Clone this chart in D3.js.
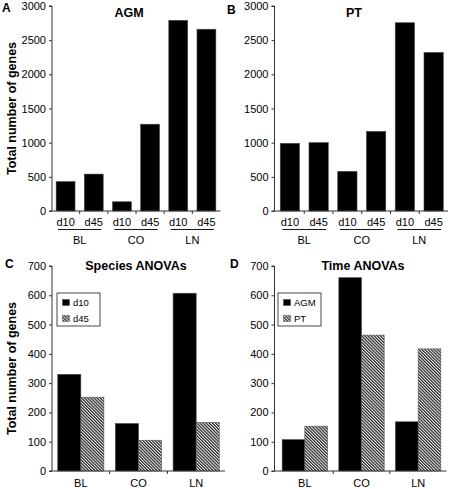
<!DOCTYPE html>
<html><head><meta charset="utf-8">
<script src="https://cdn.jsdelivr.net/npm/d3@7"></script>
<style>body{margin:0;background:#fff}svg{display:block;font-family:"Liberation Sans",Arial,sans-serif}</style>
</head><body><svg id="c" width="449" height="489"></svg>
<script>
// ---- data ----
const categories = ["BL", "CO", "LN"];
const timepoints = ["d10", "d45"];
const agmValues = [430, 540, 135, 1270, 2790, 2660];   // BL d10, BL d45, CO d10, CO d45, LN d10, LN d45
const ptValues  = [990, 1000, 580, 1165, 2755, 2320];
const topTicks = [0, 500, 1000, 1500, 2000, 2500, 3000];
const speciesD10 = [330, 162, 607];
const speciesD45 = [252, 105, 166];
const timeAGM = [107, 660, 168];
const timePT  = [153, 464, 417];
const bottomTicks = [0, 100, 200, 300, 400, 500, 600, 700];
const speciesSeries = ["d10", "d45"];
const timeSeries = ["AGM", "PT"];

const svg = d3.select("#c");
const defs = svg.append("defs");
const pat = defs.append("pattern").attr("id", "hatch").attr("patternUnits", "userSpaceOnUse")
  .attr("width", 2.2).attr("height", 2.2).attr("patternTransform", "rotate(-45)");
pat.append("rect").attr("width", 2.2).attr("height", 2.2).attr("fill", "#f4f4f4");
pat.append("line").attr("x1", 0.6).attr("y1", 0).attr("x2", 0.6).attr("y2", 2.2)
  .attr("stroke", "#111").attr("stroke-width", 1.1);

const AX = "#333";

function yAxis(g, y, ticks, x0) {
  const a = g.append("g").attr("transform", `translate(${x0},0)`)
    .call(d3.axisLeft(y).tickValues(ticks).tickSize(3).tickPadding(3).tickFormat(d3.format("d")));
  a.select(".domain").attr("stroke", AX).attr("d", `M-3,${y(ticks[ticks.length-1])}H0V${y(0)}H-3`);
  a.selectAll(".tick line").attr("stroke", AX);
  a.selectAll(".tick text").attr("font-size", 11).attr("fill", "#000")
    .attr("font-family", '"Liberation Sans",Arial,sans-serif');
}

function yTitle(g, x, y) {
  g.append("text").attr("transform", `translate(${x},${y}) rotate(-90)`)
    .attr("text-anchor", "middle").attr("dominant-baseline", "central")
    .attr("font-size", 12.5).attr("font-weight", "bold").text("Total number of genes");
}

function label(g, txt, x, y, size, bold, anchor) {
  g.append("text").attr("x", x).attr("y", y).attr("font-size", size)
    .attr("font-weight", bold ? "bold" : "normal").attr("text-anchor", anchor || "start").text(txt);
}

function topPanel(o) {
  const g = svg.append("g");
  const keys = [];
  categories.forEach(c => timepoints.forEach(t => keys.push(c + "|" + t)));
  const x = d3.scaleBand().domain(keys).range(o.xRange).paddingInner(0.33).paddingOuter(0.165);
  const y = d3.scaleLinear().domain([0, 3000]).range(o.yRange);
  g.selectAll("rect.bar").data(o.values).join("rect").attr("class", "bar")
    .attr("x", (d, i) => x(keys[i])).attr("width", x.bandwidth())
    .attr("y", d => y(d)).attr("height", d => y(0) - y(d))
    .attr("fill", "#000").attr("stroke", "#444").attr("stroke-width", 0.6);
  yAxis(g, y, topTicks, o.axisX);
  g.append("line").attr("x1", o.axisX).attr("x2", o.xRange[1]).attr("y1", y(0)).attr("y2", y(0)).attr("stroke", AX);
  keys.slice(1).forEach(k => {
    const bx = x(k) - (x.step() - x.bandwidth()) / 2;
    g.append("line").attr("x1", bx).attr("x2", bx).attr("y1", y(0)).attr("y2", y(0) + 3).attr("stroke", AX);
  });
  keys.forEach(k => {
    label(g, k.split("|")[1], x(k) + x.bandwidth() / 2, 226, 11, false, "middle");
  });
  categories.forEach(c => {
    const c1 = x(c + "|d10") + x.bandwidth() / 2, c2 = x(c + "|d45") + x.bandwidth() / 2;
    g.append("line").attr("x1", c1 - 7.5).attr("x2", c2 + 7.5).attr("y1", 229.5).attr("y2", 229.5)
      .attr("stroke", "#000").attr("stroke-width", 0.9);
    label(g, c, (c1 + c2) / 2, 243.5, 11, false, "middle");
  });
  label(g, o.title, o.titleX, 16.5, 12.5, true, "middle");
  label(g, o.letter, o.letterX, o.letterY, 12, true);
  if (o.yTitle) yTitle(g, 12, (o.yRange[0] + o.yRange[1]) / 2);
}

function bottomPanel(o) {
  const g = svg.append("g");
  const x = d3.scaleBand().domain(categories).range(o.xRange).paddingInner(0.2).paddingOuter(0.1);
  const xs = d3.scaleBand().domain(o.series).range([0, x.bandwidth()]);
  const y = d3.scaleLinear().domain([0, 700]).range(o.yRange);
  o.series.forEach((s, si) => {
    g.selectAll("rect.s" + si).data(o.values[si]).join("rect").attr("class", "s" + si)
      .attr("x", (d, i) => x(categories[i]) + xs(s)).attr("width", xs.bandwidth())
      .attr("y", d => y(d)).attr("height", d => y(0) - y(d))
      .attr("fill", si === 0 ? "#000" : "url(#hatch)")
      .attr("stroke", si === 0 ? "#444" : "#555").attr("stroke-width", 0.6);
  });
  yAxis(g, y, bottomTicks, o.axisX);
  g.append("line").attr("x1", o.axisX).attr("x2", o.xRange[1]).attr("y1", y(0)).attr("y2", y(0)).attr("stroke", AX);
  categories.slice(1).forEach(c => {
    const bx = x(c) - (x.step() - x.bandwidth()) / 2;
    g.append("line").attr("x1", bx).attr("x2", bx).attr("y1", y(0)).attr("y2", y(0) + 3).attr("stroke", AX);
  });
  categories.forEach(c => label(g, c, x(c) + x.bandwidth() / 2, 487, 11, false, "middle"));
  label(g, o.title, o.titleX, 269.5, 12.5, true, "middle");
  label(g, o.letter, o.letterX, 268, 12, true);
  if (o.yTitle) yTitle(g, 12, (o.yRange[0] + o.yRange[1]) / 2);
  const L = o.legend;
  g.append("rect").attr("x", L.x).attr("y", 293).attr("width", 43).attr("height", 33)
    .attr("fill", "#fff").attr("stroke", AX).attr("stroke-width", 0.9);
  o.series.forEach((s, si) => {
    const cy = 302.5 + si * 16;
    g.append("rect").attr("x", L.x + 5.5).attr("y", cy - 3).attr("width", 7).attr("height", 6)
      .attr("fill", si === 0 ? "#000" : "url(#hatch)").attr("stroke", "#333").attr("stroke-width", 0.4);
    g.append("text").attr("x", L.x + 16).attr("y", cy).attr("dominant-baseline", "central")
      .attr("font-size", 9.5).text(s);
  });
}

topPanel({ letter: "A", letterX: 2, letterY: 12, title: "AGM", titleX: 129, values: agmValues,
  axisX: 52, xRange: [51.5, 220.5], yRange: [211, 6], yTitle: true });
topPanel({ letter: "B", letterX: 227, letterY: 14, title: "PT", titleX: 354, values: ptValues,
  axisX: 274.5, xRange: [275.5, 448], yRange: [211, 6], yTitle: false });
bottomPanel({ letter: "C", letterX: 5, title: "Species ANOVAs", titleX: 136, series: speciesSeries,
  values: [speciesD10, speciesD45], axisX: 52, xRange: [52, 225], yRange: [471, 266], yTitle: true,
  legend: { x: 57 } });
bottomPanel({ letter: "D", letterX: 230, title: "Time ANOVAs", titleX: 363, series: timeSeries,
  values: [timeAGM, timePT], axisX: 274.5, xRange: [276.5, 446.5], yRange: [471, 266], yTitle: false,
  legend: { x: 278 } });
</script></body></html>
